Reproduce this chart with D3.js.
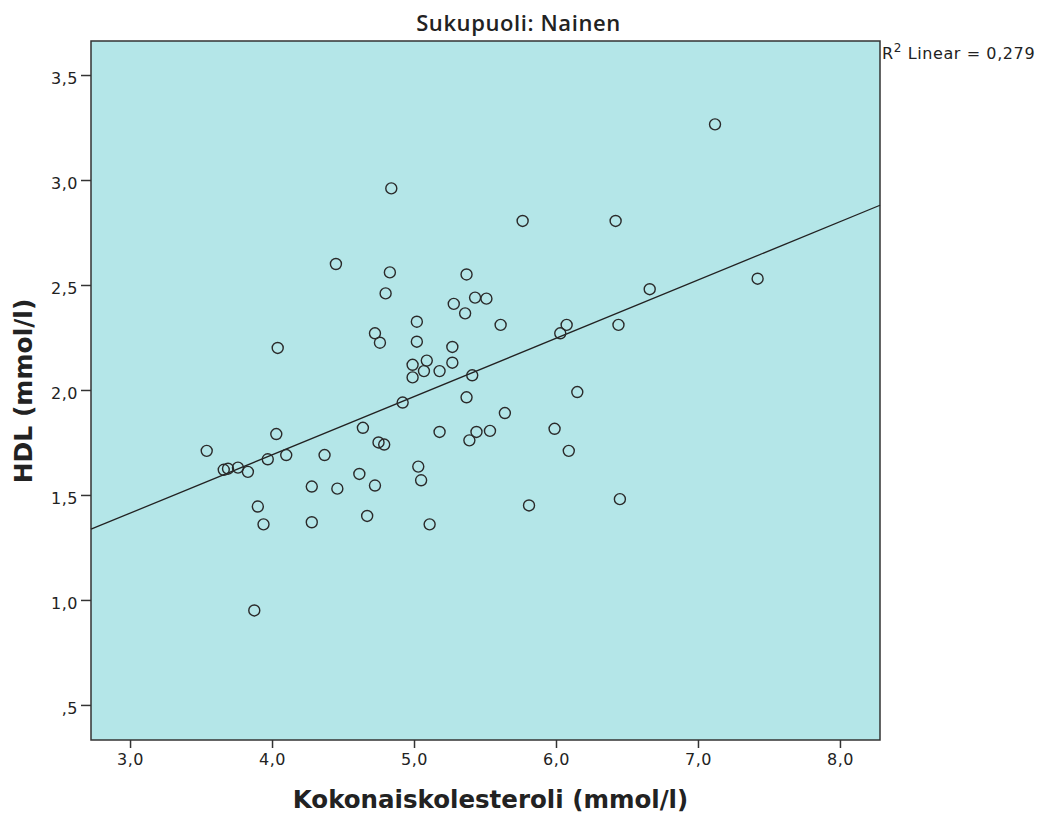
<!DOCTYPE html>
<html>
<head>
<meta charset="utf-8">
<script src="https://cdn.jsdelivr.net/npm/d3@7"></script>
<style>
  body { margin: 0; background: #fff; }
  text { fill: #222; }
</style>
</head>
<body>
<div class="chart"></div>
<script>
// kokonaiskolesteroli (x) and HDL (y)
var chol = [3.54, 3.66, 3.69, 3.76, 3.83, 3.97, 4.10, 4.03, 4.04, 4.37,
  4.64, 4.75, 4.79, 4.92, 5.03, 5.05, 4.615, 4.725, 4.28, 4.46,
  3.90, 3.94, 4.28, 4.67, 5.11, 3.875, 4.84, 5.765, 4.45, 4.83,
  4.80, 5.37, 5.28, 5.43, 5.51, 5.36, 5.61, 5.02, 4.725, 4.76,
  5.02, 5.27, 5.27, 4.99, 5.09, 5.07, 5.18, 4.99, 5.41, 6.075,
  6.03, 5.37, 6.15, 5.64, 5.99, 6.09, 5.18, 5.44, 5.39, 5.535,
  5.81, 6.45, 7.12, 6.42, 7.42, 6.66, 6.44];
var hdl = [1.71, 1.62, 1.625, 1.63, 1.61, 1.67, 1.69, 1.79, 2.20, 1.69,
  1.82, 1.75, 1.74, 1.94, 1.635, 1.57, 1.60, 1.545, 1.54, 1.53,
  1.445, 1.36, 1.37, 1.40, 1.36, 0.95, 2.96, 2.805, 2.60, 2.56,
  2.46, 2.55, 2.41, 2.44, 2.435, 2.365, 2.31, 2.325, 2.27, 2.225,
  2.23, 2.205, 2.13, 2.12, 2.14, 2.09, 2.09, 2.06, 2.07, 2.31,
  2.27, 1.965, 1.99, 1.89, 1.815, 1.71, 1.80, 1.80, 1.76, 1.805,
  1.45, 1.48, 3.265, 2.805, 2.53, 2.48, 2.31];

var xTicks = [3, 4, 5, 6, 7, 8];
var yTicks = [0.5, 1.0, 1.5, 2.0, 2.5, 3.0, 3.5];

var width = 1045, height = 814;
var plot = {x0: 91, x1: 880, y0: 41, y1: 740};
var sans = "'DejaVu Sans', Verdana, sans-serif";

var x = d3.scaleLinear().domain([2.725, 8.282]).range([plot.x0, plot.x1]);
var y = d3.scaleLinear().domain([0.333, 3.662]).range([plot.y1, plot.y0]);

// comma as decimal separator, ",5" for 0.5
function fmt(v) {
  var s = v.toFixed(1).replace(".", ",");
  return s.charAt(0) === "0" ? s.slice(1) : s;
}

var svg = d3.select(".chart").append("svg")
    .attr("width", width)
    .attr("height", height)
    .style("font-family", sans);

svg.append("rect")
    .attr("x", plot.x0).attr("y", plot.y0)
    .attr("width", plot.x1 - plot.x0).attr("height", plot.y1 - plot.y0)
    .attr("fill", "#b4e6e8")
    .attr("stroke", "#333")
    .attr("stroke-width", 1.5);

// axes
var xAxis = svg.append("g")
    .attr("transform", "translate(0," + plot.y1 + ")")
    .call(d3.axisBottom(x).tickValues(xTicks).tickFormat(fmt).tickSize(8).tickPadding(6));
var yAxis = svg.append("g")
    .attr("transform", "translate(" + plot.x0 + ",0)")
    .call(d3.axisLeft(y).tickValues(yTicks).tickFormat(fmt).tickSize(10).tickPadding(3));

[xAxis, yAxis].forEach(function(a) {
  a.attr("font-family", sans).attr("font-size", 16);
  a.select(".domain").remove();
  a.selectAll(".tick line").attr("stroke", "#333").attr("stroke-width", 1.5);
  a.selectAll(".tick text").attr("fill", "#444").style("letter-spacing", "0.5px");
});
yAxis.selectAll(".tick text").attr("dy", "0.55em");

// least squares fit line
var mx = d3.mean(chol), my = d3.mean(hdl);
var sxy = d3.sum(chol, function(v, i) { return (v - mx) * (hdl[i] - my); });
var sxx = d3.sum(chol, function(v) { return (v - mx) * (v - mx); });
var slope = sxy / sxx, icpt = my - slope * mx;
var xd = x.domain();

svg.append("line")
    .attr("x1", x(xd[0])).attr("y1", y(icpt + slope * xd[0]))
    .attr("x2", x(xd[1])).attr("y2", y(icpt + slope * xd[1]))
    .attr("stroke", "#222")
    .attr("stroke-width", 1.3);

svg.append("g").selectAll("circle")
    .data(chol)
  .enter().append("circle")
    .attr("cx", function(d) { return x(d); })
    .attr("cy", function(d, i) { return y(hdl[i]); })
    .attr("r", 5.5)
    .attr("fill", "none")
    .attr("stroke", "#2a2a2a")
    .attr("stroke-width", 1.4);

// texts
svg.append("text")
    .attr("x", (plot.x0 + plot.x1) / 2 + 33).attr("y", 31)
    .attr("text-anchor", "middle")
    .style("font-family", "'Open Sans', sans-serif")
    .style("font-weight", 600)
    .style("font-size", "22px")
    .style("letter-spacing", "0.6px")
    .text("Sukupuoli: Nainen");

var r2 = svg.append("text")
    .attr("x", plot.x1 + 2).attr("y", 59)
    .style("font-size", "16px")
    .style("letter-spacing", "0.6px")
    .attr("fill", "#333");
r2.append("tspan").text("R");
r2.append("tspan").attr("dy", -7).style("font-size", "12px").text("2");
r2.append("tspan").attr("dy", 7).text(" Linear = 0,279");

svg.append("text")
    .attr("x", (plot.x0 + plot.x1) / 2 + 5).attr("y", 808)
    .attr("text-anchor", "middle")
    .style("font-weight", "bold")
    .style("font-size", "24.5px")
    .text("Kokonaiskolesteroli (mmol/l)");

svg.append("text")
    .attr("transform", "translate(32,391) rotate(-90)")
    .attr("text-anchor", "middle")
    .style("font-weight", "bold")
    .style("font-size", "25px")
    .text("HDL (mmol/l)");
</script>
</body>
</html>
